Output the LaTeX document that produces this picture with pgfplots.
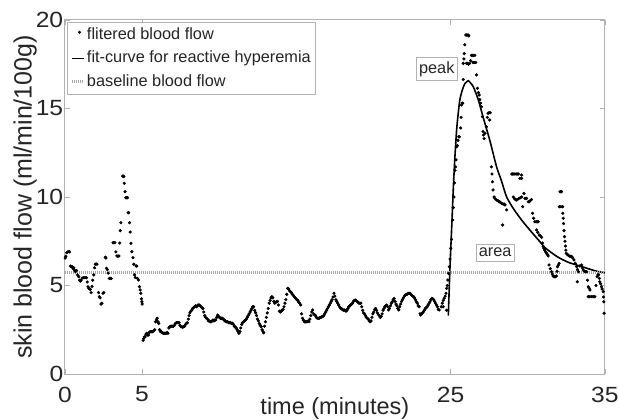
\documentclass[border=0pt]{standalone}
\usepackage{pgfplots}
\pgfplotsset{compat=1.18}
\usepackage{pgfplotstable}
\usepackage{fontspec}
\setmainfont{Liberation Sans}
\newfontfamily\tickfamily[FakeStretch=1.12]{Liberation Sans}
\newcommand\tickfont{\tickfamily\fontsize{22}{22}\selectfont}
\newcommand\xlabfont{\fontsize{23.5}{24}\selectfont}
\newcommand\ylabfont{\fontsize{25}{26}\selectfont}
\newcommand\legfont{\fontsize{16.3}{17}\selectfont}

\pgfplotstableread{
x y
0.02 6.55
0.06 6.65
0.12 6.85
0.19 6.9
0.25 6.92
0.30 6.9
0.36 6.1
0.42 6.05
0.47 6.06
0.54 5.95
0.58 6.0
0.63 5.85
0.68 5.78
0.75 5.85
0.82 5.6
0.90 5.5
0.95 5.3
1.00 5.25
1.05 5.3
1.12 5.42
1.22 5.44
1.30 5.45
1.40 5.44
1.45 5.2
1.50 4.93
1.55 4.85
1.60 4.8
1.65 4.78
1.70 4.6
1.76 4.95
1.80 5.3
1.87 5.6
1.92 6.0
1.97 6.2
2.02 6.22
2.08 6.2
2.18 4.6
2.23 4.37
2.28 4.3
2.34 3.95
2.40 4.0
2.47 4.56
2.52 4.6
2.62 6.6
2.66 6.55
2.70 5.97
2.75 5.9
2.80 5.7
2.88 5.4
2.94 5.4
3.00 5.4
3.12 7.42
3.18 7.42
3.24 7.42
3.30 6.9
3.37 6.67
3.43 6.65
3.50 6.67
3.55 7.4
3.59 8.1
3.63 8.55
3.74 11.18
3.79 11.18
3.82 11.15
3.85 10.77
3.90 10.3
3.95 9.96
4.00 9.96
4.06 9.96
4.10 9.11
4.14 9.11
4.19 8.55
4.23 8.02
4.28 7.38
4.34 6.91
4.41 6.57
4.47 6.2
4.51 5.6
4.56 5.45
4.62 6.1
4.66 6.1
4.70 5.4
4.77 5.31
4.83 4.93
4.88 4.75
4.92 4.56
4.96 4.25
4.99 4.08
5.01 3.95
5.07 1.9
5.10 2.0
5.15 2.1
5.20 2.1
5.25 2.25
5.31 2.3
5.36 2.2
5.42 2.2
5.47 2.35
5.52 2.39
5.58 2.39
5.63 2.39
5.70 2.39
5.76 2.45
5.82 2.5
5.88 2.95
5.93 3.05
5.98 3.15
6.03 2.95
6.08 2.86
6.14 2.5
6.20 2.39
6.26 2.39
6.32 2.33
6.38 2.3
6.44 2.3
6.50 2.3
6.56 2.3
6.62 2.35
6.68 2.3
6.74 2.6
6.80 2.67
6.86 2.7
6.92 2.7
6.98 2.7
7.04 2.7
7.10 2.75
7.16 2.85
7.22 2.9
7.28 2.9
7.34 2.9
7.40 2.9
7.46 2.75
7.52 2.67
7.58 2.67
7.64 2.64
7.70 2.67
7.76 2.7
7.82 2.8
7.88 2.86
7.94 2.9
8.00 3.1
8.05 3.3
8.10 3.45
8.16 3.55
8.22 3.6
8.28 3.7
8.34 3.75
8.40 3.8
8.46 3.85
8.52 3.8
8.58 3.85
8.64 3.9
8.70 3.9
8.76 3.85
8.82 3.8
8.88 3.75
8.94 3.7
9.00 3.5
9.06 3.3
9.12 3.2
9.18 3.15
9.24 3.1
9.30 3.0
9.36 3.0
9.42 2.95
9.48 2.95
9.54 3.0
9.60 3.05
9.66 3.0
9.72 3.05
9.78 3.05
9.84 3.2
9.90 3.33
9.96 3.25
10.02 3.2
10.08 3.15
10.14 3.15
10.20 3.15
10.26 3.1
10.32 3.05
10.38 3.0
10.44 2.95
10.50 2.95
10.56 2.95
10.62 2.9
10.68 2.9
10.74 2.9
10.80 2.85
10.86 2.86
10.92 2.8
10.98 2.7
11.04 2.65
11.10 2.6
11.16 2.5
11.22 2.4
11.28 2.3
11.34 2.4
11.40 2.6
11.46 2.8
11.52 2.9
11.58 2.95
11.64 3.0
11.70 3.05
11.76 3.1
11.82 3.2
11.88 3.3
11.94 3.4
12.00 3.5
12.06 3.6
12.12 3.7
12.18 3.8
12.23 3.8
12.30 3.6
12.36 3.46
12.42 3.3
12.48 3.1
12.54 3.0
12.60 2.85
12.66 2.75
12.72 2.67
12.78 2.5
12.84 2.4
12.88 2.33
12.94 2.7
13.00 2.95
13.06 3.2
13.12 3.45
13.18 3.7
13.24 4.0
13.30 4.15
13.36 4.3
13.42 4.37
13.48 4.3
13.54 4.1
13.60 4.0
13.66 4.05
13.72 4.08
13.78 4.1
13.84 3.9
13.90 3.55
13.96 3.5
14.02 3.55
14.08 3.6
14.14 3.65
14.20 3.8
14.26 4.0
14.32 4.2
14.38 4.5
14.44 4.84
14.50 4.8
14.56 4.7
14.62 4.65
14.68 4.6
14.74 4.5
14.80 4.45
14.86 4.37
14.92 4.3
14.98 4.25
15.04 4.2
15.10 4.15
15.16 4.05
15.22 4.0
15.28 3.9
15.34 3.4
15.40 3.15
15.46 3.05
15.52 2.95
15.58 2.95
15.64 2.95
15.70 2.95
15.76 3.0
15.82 2.95
15.88 3.1
15.94 3.3
16.00 3.5
16.06 3.62
16.12 3.4
16.18 3.35
16.24 3.3
16.30 3.2
16.36 3.15
16.42 3.15
16.48 3.15
16.54 3.2
16.60 3.2
16.66 3.24
16.72 3.25
16.78 3.3
16.84 3.4
16.90 3.5
16.96 3.6
17.02 3.7
17.08 3.8
17.14 3.9
17.20 4.0
17.26 4.1
17.32 4.2
17.38 4.35
17.44 4.56
17.50 4.4
17.56 4.2
17.62 4.1
17.68 4.0
17.74 3.9
17.80 3.8
17.86 3.72
17.92 3.7
17.98 3.65
18.04 3.6
18.10 3.62
18.16 3.6
18.22 3.55
18.28 3.6
18.34 3.7
18.40 3.8
18.46 3.85
18.52 3.9
18.58 3.95
18.64 4.0
18.70 4.1
18.76 4.15
18.82 4.18
18.88 4.15
18.94 4.1
19.00 4.05
19.06 4.0
19.12 4.0
19.18 4.0
19.24 3.8
19.30 3.6
19.36 3.45
19.42 3.4
19.48 3.3
19.54 3.2
19.60 3.15
19.66 3.1
19.72 3.0
19.78 2.95
19.84 3.0
19.90 3.2
19.96 3.4
20.02 3.5
20.08 3.65
20.14 3.71
20.20 3.6
20.26 3.45
20.32 3.35
20.38 3.3
20.44 3.2
20.50 3.25
20.56 3.4
20.62 3.6
20.68 3.7
20.74 3.8
20.80 3.85
20.86 3.9
20.92 3.8
20.98 3.62
21.04 3.7
21.10 3.85
21.16 4.0
21.22 4.08
21.28 4.2
21.34 4.27
21.40 4.1
21.46 3.95
21.52 3.85
21.58 3.7
21.64 3.62
21.70 3.8
21.76 3.95
21.82 4.1
21.88 4.2
21.94 4.3
22.00 4.4
22.06 4.46
22.12 4.5
22.18 4.5
22.24 4.55
22.30 4.56
22.36 4.56
22.42 4.5
22.48 4.45
22.54 4.4
22.60 4.37
22.66 4.3
22.72 4.2
22.78 4.08
22.84 4.0
22.90 3.85
22.96 3.8
23.02 3.4
23.06 3.33
23.12 3.4
23.18 3.45
23.24 3.52
23.30 3.6
23.36 3.7
23.42 3.75
23.48 3.8
23.54 3.9
23.60 4.0
23.66 4.08
23.72 4.2
23.78 4.27
23.84 4.25
23.90 4.2
23.96 4.1
24.02 4.0
24.08 3.9
24.14 3.8
24.20 3.65
24.26 3.62
24.40 3.8
24.46 4.0
24.52 4.15
24.58 4.27
24.64 4.4
24.70 4.56
24.74 4.84
24.74 3.6
24.52 3.8
24.78 5.0
24.82 5.31
24.86 5.69
24.91 6.06
24.96 6.5
25.01 7.1
25.06 7.6
25.13 8.7
25.17 9.4
25.22 10.0
25.25 10.8
25.28 11.5
25.32 11.7
25.35 12.1
25.39 12.84
25.43 12.9
25.48 13.2
25.53 13.4
25.56 13.4
25.65 13.9
25.68 14.5
25.71 15.2
25.75 15.3
25.78 15.3
25.82 16.64
25.82 17.55
25.86 17.8
25.88 18.1
25.92 18.6
25.98 19.15
26.03 19.15
26.08 19.15
26.14 19.15
26.18 19.1
26.03 17.55
26.10 17.55
26.16 17.5
26.23 17.55
26.30 17.7
26.35 18.0
26.41 18.0
26.48 18.0
26.57 18.0
26.46 17.6
26.53 17.6
26.63 17.6
26.68 16.9
26.74 16.14
26.80 15.9
26.85 15.76
26.89 15.5
26.94 15.3
27.00 15.1
27.06 14.54
27.10 13.7
27.13 13.5
27.17 13.3
27.23 13.6
27.32 13.97
27.38 14.5
27.43 14.73
27.49 14.76
27.56 14.76
27.53 14.35
27.64 11.7
27.68 11.3
27.71 10.86
27.75 10.4
27.82 10.0
27.88 9.9
27.97 9.83
28.05 9.8
28.11 9.75
28.16 9.73
28.22 9.7
28.31 9.64
28.40 9.6
28.47 9.6
28.53 9.55
28.63 9.27
28.37 8.42
28.96 11.3
29.02 11.3
29.10 11.3
29.17 11.3
29.25 11.3
29.32 11.3
29.39 11.3
29.49 11.05
29.60 11.24
29.60 11.05
29.06 10.0
29.15 9.9
29.22 9.85
29.28 9.83
29.40 9.9
29.50 9.95
29.60 10.0
29.67 9.45
29.75 10.2
29.82 9.92
29.92 9.92
30.03 9.73
30.09 9.73
30.17 9.8
30.24 9.86
30.31 9.08
30.38 8.8
30.46 8.6
30.55 8.6
30.62 8.6
30.68 8.6
30.57 8.14
30.65 8.0
30.74 7.85
30.82 7.8
30.90 7.72
30.95 7.4
31.00 7.2
31.05 7.1
31.10 7.0
31.16 6.9
31.22 6.82
31.27 6.75
31.32 6.67
31.38 6.16
31.46 5.95
31.54 5.78
31.59 5.65
31.64 5.54
31.70 5.5
31.75 5.5
31.80 5.5
31.86 5.54
31.90 5.8
31.93 6.06
31.98 6.15
32.03 6.25
32.09 10.3
32.14 10.3
32.19 10.3
32.05 9.45
32.15 9.45
32.26 9.45
32.27 9.08
32.30 8.8
32.32 8.5
32.35 8.1
32.38 7.76
32.41 7.5
32.44 7.23
32.47 7.0
32.49 6.82
32.57 6.75
32.64 6.7
32.72 6.65
32.78 6.65
32.85 6.63
32.92 6.55
33.00 6.44
33.08 6.25
33.17 6.06
33.22 5.9
33.28 5.78
33.21 5.21
33.37 6.1
33.49 6.16
33.54 6.0
33.60 5.87
33.67 5.8
33.74 5.78
33.82 5.78
33.87 5.3
33.92 4.93
33.98 4.85
34.03 4.75
33.92 4.37
34.02 4.37
34.12 4.37
34.22 4.37
34.29 4.37
34.35 4.37
34.42 5.0
34.50 5.5
34.55 5.6
34.59 5.6
34.64 5.4
34.67 5.21
34.72 5.1
34.78 4.93
34.82 4.8
34.89 4.65
34.91 4.35
34.93 4.08
34.95 3.43
}\flowdata

\begin{document}
\begin{tikzpicture}
\begin{axis}[
  scale only axis, width=540pt, height=354pt,
  xmin=0, xmax=35, ymin=0, ymax=20,
  xtick={0,5,25,35}, ytick={0,5,10,15,20},
  tick align=inside, major tick length=5pt,
  axis line style={gray!60, line width=1pt},
  tick style={gray!60, line width=0.7pt},
  /pgf/number format/assume math mode=true,
  every tick label/.append style={font=\tickfont, text=black!85},
  xticklabel style={inner sep=0pt, anchor=north, yshift=-12.5pt},
  yticklabel style={inner sep=0pt, anchor=east, xshift=-1.5pt},
  xlabel={time (minutes)},
  ylabel={skin blood flow (ml/min/100g)},
  xlabel style={font=\xlabfont, text=black!85, at={(axis description cs:0.5,-0.065)}, anchor=north, inner sep=0pt},
  ylabel style={font=\ylabfont, text=black!85, at={(axis description cs:-0.0517,0.5)}, anchor=south, inner sep=0pt},
  legend cell align=left,
  legend style={at={(axis description cs:0.0033,0.995)}, anchor=north west,
    draw=gray!60, line width=0.6pt, font=\legfont, inner sep=4pt, row sep=6pt,
    nodes={inner sep=1pt, text height=12pt, text depth=3.5pt, text=black!85}},
  clip=false,
]
\addplot[only marks, mark=*, mark size=1.4pt, black,
  legend image code/.code={\fill[black] (7pt,2.5pt) circle (1.2pt);}]
  table[x=x, y=y] {\flowdata};
\addlegendentry{flitered blood flow}

\addplot[black, line width=1.6pt, smooth, tension=0.4,
  legend image code/.code={\draw[black, line width=1.6pt] (0pt,0pt) -- (12pt,0pt);}]
  coordinates {
  (24.85,3.3) (24.96,6.06) (25.08,8.5) (25.18,10.6) (25.28,12.3) (25.39,13.8)
  (25.49,14.7) (25.6,15.5) (25.76,16.05) (25.92,16.4) (26.14,16.57) (26.28,16.45)
  (26.47,16.23) (26.79,15.5) (27.11,14.5) (27.54,13.2) (27.98,11.7) (28.3,10.9)
  (28.63,10.0) (29.1,9.3) (29.6,8.7) (30.1,8.17) (30.79,7.47) (31.1,7.15)
  (31.45,6.91) (31.87,6.65) (32.3,6.44) (32.72,6.28) (33.16,6.16) (33.63,6.03)
  (34.03,5.92) (34.5,5.8) (35.0,5.72)
  };
\addlegendentry{fit-curve for reactive hyperemia\hspace{8pt}}

\addplot[gray!70, line width=3pt, dash pattern=on 1pt off 1pt,
  legend image code/.code={\draw[gray!70, line width=3pt, dash pattern=on 1pt off 1pt] (0pt,0pt) -- (12pt,0pt);}]
  coordinates {(0,5.75) (35,5.75)};
\addlegendentry{baseline blood flow}

\node[draw=gray!60, line width=0.6pt, fill=white, font=\legfont, text=black!85, inner xsep=3pt, inner ysep=4pt] at (axis cs:24.1,17.22) {peak};
\node[draw=gray!60, line width=0.6pt, fill=white, font=\legfont, text=black!85, inner xsep=3pt, inner ysep=4pt] at (axis cs:27.89,6.86) {area};

\coordinate (BBA) at (axis description cs:-0.1202,-0.1299);
\coordinate (BBB) at (axis description cs:1.0261,1.0565);
\end{axis}
\pgfresetboundingbox
\useasboundingbox (BBA) rectangle (BBB);
\end{tikzpicture}
\end{document}
